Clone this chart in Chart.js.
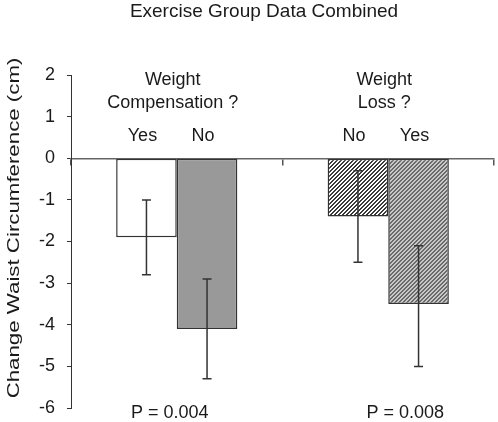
<!DOCTYPE html>
<html>
<head>
<meta charset="utf-8">
<script src="https://cdn.jsdelivr.net/npm/chart.js@4.4.1/dist/chart.umd.min.js"></script>
<style>
  body { margin: 0; background: #fff; }
  canvas { display: block; }
</style>
</head>
<body>
<canvas id="chart" width="498" height="422"></canvas>
<script>
// data
const groupNames = ["Weight Compensation ?", "Weight Loss ?"];
const groupTitleLines = [["Weight", "Compensation ?"], ["Weight", "Loss ?"]];
const firstBarLabels = ["Yes", "No"];
const secondBarLabels = ["No", "Yes"];
const firstMeans = [-1.9, -1.4];
const secondMeans = [-4.1, -3.5];
const firstErrLow = [-2.8, -2.5];
const firstErrHigh = [-1.0, -0.3];
const secondErrLow = [-5.3, -5.0];
const secondErrHigh = [-2.9, -2.1];
const pValueLabels = ["P = 0.004", "P = 0.008"];
const yMin = -6;
const yMax = 2;
const yTitle = "Change Waist Circumference (cm)";

const FONT = "'Liberation Sans', Arial, sans-serif";
const TEXT = "#1a1a1a";
const EDGE = "#333";

function hatch(dark, light) {
    const c = document.createElement("canvas");
    c.width = 4;
    c.height = 4;
    const g = c.getContext("2d");
    g.fillStyle = light;
    g.fillRect(0, 0, 4, 4);
    g.fillStyle = dark;
    for (let y = 0; y < 4; y++) {
        for (let x = 0; x < 4; x++) {
            if ((x + y) % 4 < 2) g.fillRect(x, y, 1, 1);
        }
    }
    return g.createPattern(c, "repeat");
}

const hatchLight = hatch("#3a3a3a", "#ffffff");
const hatchDark = hatch("#6a6a6a", "#c8c8c8");

const errorBars = {
    id: "errorBars",
    afterDatasetsDraw(chart) {
        const ctx = chart.ctx;
        const y = chart.scales.y;
        const lows = [firstErrLow, secondErrLow];
        const highs = [firstErrHigh, secondErrHigh];
        ctx.save();
        ctx.strokeStyle = EDGE;
        ctx.lineWidth = 1.5;
        chart.data.datasets.forEach((ds, d) => {
            chart.getDatasetMeta(d).data.forEach((bar, i) => {
                const top = y.getPixelForValue(highs[d][i]);
                const bottom = y.getPixelForValue(lows[d][i]);
                ctx.beginPath();
                ctx.moveTo(bar.x, top);
                ctx.lineTo(bar.x, bottom);
                ctx.moveTo(bar.x - 4.5, top);
                ctx.lineTo(bar.x + 4.5, top);
                ctx.moveTo(bar.x - 4.5, bottom);
                ctx.lineTo(bar.x + 4.5, bottom);
                ctx.stroke();
            });
        });
        ctx.restore();
    }
};

const annotations = {
    id: "annotations",
    afterDraw(chart) {
        const ctx = chart.ctx;
        const x = chart.scales.x;
        ctx.save();
        ctx.fillStyle = TEXT;
        ctx.textAlign = "center";
        ctx.textBaseline = "middle";
        ctx.font = "19px " + FONT;
        ctx.fillText("Exercise Group Data Combined", 264, 12);

        ctx.font = "18px " + FONT;
        const subLabels = [firstBarLabels, secondBarLabels];
        const pShift = [-7, 17];
        groupNames.forEach((name, i) => {
            const cx = x.getPixelForValue(i);
            ctx.fillText(groupTitleLines[i][0], cx - 4, 80);
            ctx.fillText(groupTitleLines[i][1], cx - 4, 103);
            ctx.fillText(pValueLabels[i], cx + pShift[i], 413);
            subLabels.forEach((labels, d) => {
                const bar = chart.getDatasetMeta(d).data[i];
                ctx.fillText(labels[i], bar.x - 4, 136);
            });
        });

        // y axis title, stretched along its length like the source figure
        ctx.font = "17px " + FONT;
        ctx.translate(14, 228);
        ctx.rotate(-Math.PI / 2);
        ctx.scale(1.31, 1);
        ctx.fillText(yTitle, 0, 0);
        ctx.restore();
    }
};

new Chart(document.getElementById("chart"), {
    type: "bar",
    data: {
        labels: groupNames,
        datasets: [
            {
                label: "first",
                data: firstMeans,
                backgroundColor: ["#ffffff", hatchLight],
                borderColor: EDGE,
                borderWidth: 1.5,
                borderSkipped: false
            },
            {
                label: "second",
                data: secondMeans,
                backgroundColor: ["#999999", hatchDark],
                borderColor: EDGE,
                borderWidth: 1.5,
                borderSkipped: false
            }
        ]
    },
    options: {
        responsive: false,
        animation: false,
        datasets: { bar: { categoryPercentage: 0.573, barPercentage: 1.0 } },
        layout: { padding: { left: 0, top: 75, right: 4, bottom: 14 } },
        plugins: {
            legend: { display: false },
            tooltip: { enabled: false }
        },
        scales: {
            x: {
                position: { y: 0 },
                offset: true,
                grid: { offset: true, drawOnChartArea: false, tickLength: 6, color: "#555", lineWidth: 1.5 },
                border: { color: "#666", width: 1.5 },
                ticks: { display: false },
                afterFit(scale) {
                    scale.height = 0;
                    scale.paddingLeft = scale.paddingRight = 0;
                    scale.paddingTop = scale.paddingBottom = 0;
                }
            },
            y: {
                min: yMin,
                max: yMax,
                ticks: { stepSize: 1, color: TEXT, padding: 12, font: { size: 18, family: FONT } },
                grid: { drawOnChartArea: false, tickLength: 4, color: EDGE },
                border: { color: EDGE },
                afterFit(scale) {
                    scale.width = 71;
                    scale.paddingTop = scale.paddingBottom = 0;
                }
            }
        }
    },
    plugins: [errorBars, annotations]
});
</script>
</body>
</html>
